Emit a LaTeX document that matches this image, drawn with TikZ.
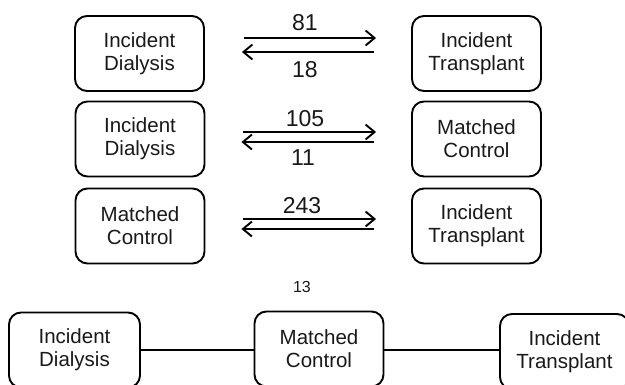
\documentclass[tikz,border=0pt]{standalone}
\usepackage{fontspec}
\setmainfont{Liberation Sans}
\usetikzlibrary{arrows.meta,calc}
\tikzset{
  box/.style={draw=black, line width=1.9pt, rounded corners=12pt, minimum width=129pt, minimum height=75pt,
    align=center, inner sep=0pt, text=black!90, font=\fontsize{20.5}{23}\selectfont},
  arr/.style={line width=1.9pt, -{Straight Barb[length=9pt,width=15pt,line width=1.9pt]}},
  num/.style={inner sep=0pt, text=black!90, font=\fontsize{23}{26}\selectfont},
  link/.style={line width=2.8pt}
}
\begin{document}
\begin{tikzpicture}[x=1pt,y=-1pt]
\clip (0,0) rectangle (625,384);
\fill[white] (0,0) rectangle (625,384);
% row 1
\node[box] (L1) at (139.5,53.5) {Incident\\Dialysis};
\node[box] (R1) at (476.5,53.5) {Incident\\Transplant};
\draw[arr] ($(L1.east)+(39,-15.5)$) -- ($(R1.west)+(-35,-15.5)$);
\draw[arr] ($(R1.west)+(-37,-1.5)$) -- ($(L1.east)+(37,-1.5)$);
\node[num] (n81) at (305,23) {81};
\node[num] (n18) at (305,70) {18};
% row 2
\node[box] (L2) at (140,139) {Incident\\Dialysis};
\node[box] (R2) at (476.5,139) {Matched\\Control};
\draw[arr] ($(L2.east)+(38,-7)$) -- ($(R2.west)+(-35,-7)$);
\draw[arr] ($(R2.west)+(-37,3)$) -- ($(L2.east)+(36,3)$);
\node[num] (n105) at (305,119) {105};
\node[num] (n11) at (303,158) {11};
% row 3
\node[box] (L3) at (140,226) {Matched\\Control};
\node[box] (R3) at (476.5,226) {Incident\\Transplant};
\draw[arr] ($(L3.east)+(38,-7)$) -- ($(R3.west)+(-35,-7)$);
\draw[arr] ($(R3.west)+(-37,3)$) -- ($(L3.east)+(36,3)$);
\node[num] (n243) at (302,206) {243};
% bottom row
\node[num, font=\fontsize{16}{19}\selectfont] (n13) at (302,287) {13};
\node[box, minimum width=131pt] (BL) at (74.5,350) {Incident\\Dialysis};
\node[box] (BM) at (319,349) {Matched\\Control};
\node[box] (BR) at (564.5,351.5) {Incident\\Transplant};
\draw[link] (BL.east) -- (BL.east -| BM.west);
\draw[link] (BM.east |- 0,350) -- (BR.west |- 0,350);
\end{tikzpicture}
\end{document}
